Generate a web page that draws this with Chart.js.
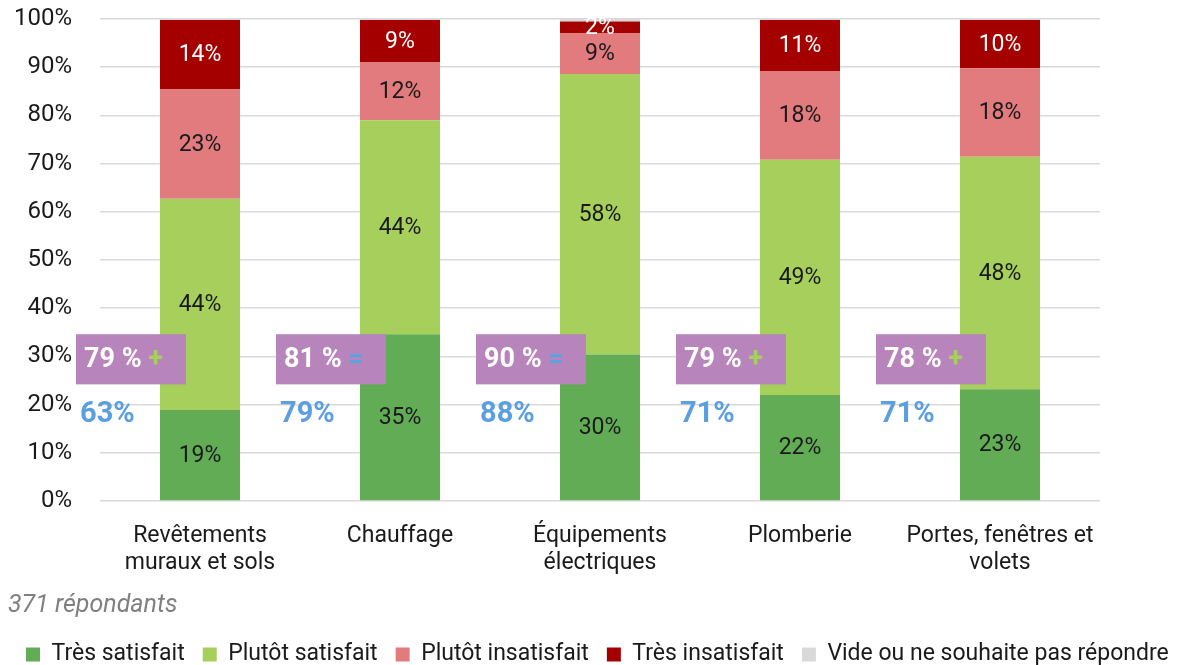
<!DOCTYPE html>
<html lang="fr">
<head>
<meta charset="utf-8">
<title>Satisfaction par équipement</title>
<script src="https://cdn.jsdelivr.net/npm/chart.js@4"></script>
<style>
  html, body { margin: 0; padding: 0; background: #fff; }
  #wrap { width: 1193px; height: 665px; position: relative; }
</style>
</head>
<body>
<div id="wrap"><canvas id="chart"></canvas></div>
<script>
const categories = [
    ['Revêtements', 'muraux et sols'],
    'Chauffage',
    ['Équipements', 'électriques'],
    'Plomberie',
    ['Portes, fenêtres et', 'volets']
];
const tresSatisfait = [18.9, 34.6, 30.4, 22.0, 23.2];
const plutotSatisfait = [43.8, 44.4, 58.2, 48.8, 48.2];
const plutotInsatisfait = [22.8, 12.1, 8.5, 18.4, 18.4];
const tresInsatisfait = [14.3, 8.7, 2.4, 10.6, 10.0];
const vide = [0.2, 0.2, 0.5, 0.2, 0.2];

// encadrés violets : score actuel + tendance, et score précédent en bleu
const scoreActuel = [79, 81, 90, 79, 78];
const tendance = ['+', '=', '=', '+', '+'];
const scorePrecedent = [63, 79, 88, 71, 71];

const FONT = 'Roboto, "DejaVu Sans", sans-serif';

// étiquettes de valeurs dans les segments
const segmentLabels = {
    id: 'segmentLabels',
    afterDatasetsDraw(chart) {
        const ctx = chart.ctx;
        ctx.save();
        ctx.font = '23px ' + FONT;
        ctx.textAlign = 'center';
        ctx.textBaseline = 'middle';
        chart.data.datasets.forEach((ds, i) => {
            if (ds.hideLabel) return;
            const meta = chart.getDatasetMeta(i);
            meta.data.forEach((bar, j) => {
                const v = ds.data[j];
                const p = bar.getProps(['x', 'y', 'base'], true);
                ctx.fillStyle = ds.labelColor;
                ctx.fillText(Math.round(v) + '%', p.x, (p.y + p.base) / 2 + 1);
            });
        });
        ctx.restore();
    }
};

// encadrés et scores précédents
const scoreBoxes = {
    id: 'scoreBoxes',
    afterDatasetsDraw(chart) {
        const ctx = chart.ctx;
        const xs = chart.scales.x;
        const ys = chart.scales.y;
        ctx.save();
        ctx.textBaseline = 'middle';
        ctx.textAlign = 'left';
        categories.forEach((c, i) => {
            const cx = xs.getPixelForValue(i);
            const top = ys.getPixelForValue(34.6);
            const bottom = ys.getPixelForValue(24.2);
            const left = cx - 124;
            ctx.fillStyle = '#B784BB';
            ctx.fillRect(left, top, 110, bottom - top);

            const midY = (top + bottom) / 2 + 1;
            ctx.font = 'bold 27px ' + FONT;
            ctx.fillStyle = '#ffffff';
            const txt = scoreActuel[i] + ' %';
            ctx.fillText(txt, left + 8, midY);
            const w = ctx.measureText(txt + ' ').width;
            ctx.fillStyle = tendance[i] === '+' ? '#A6CF5C' : '#5BA3E0';
            ctx.fillText(tendance[i], left + 8 + w, midY);

            ctx.font = 'bold 29px ' + FONT;
            ctx.fillStyle = '#5B9FE0';
            ctx.fillText(scorePrecedent[i] + '%', cx - 120, ys.getPixelForValue(18.2) + 1);
        });
        ctx.restore();
    }
};

new Chart(document.getElementById('chart'), {
    type: 'bar',
    data: {
        labels: categories,
        datasets: [
            { label: 'Très satisfait', data: tresSatisfait, backgroundColor: '#62AC55', labelColor: '#1a1a1a' },
            { label: 'Plutôt satisfait', data: plutotSatisfait, backgroundColor: '#A6CF5C', labelColor: '#1a1a1a' },
            { label: 'Plutôt insatisfait', data: plutotInsatisfait, backgroundColor: '#E27B7D', labelColor: '#1a1a1a' },
            { label: 'Très insatisfait', data: tresInsatisfait, backgroundColor: '#A50000', labelColor: '#ffffff' },
            { label: 'Vide ou ne souhaite pas répondre', data: vide, backgroundColor: '#D9D9D9', hideLabel: true }
        ]
    },
    options: {
        responsive: true,
        maintainAspectRatio: false,
        animation: false,
        datasets: {
            bar: { barPercentage: 0.4, categoryPercentage: 1, borderWidth: 0 }
        },
        layout: { padding: { left: 8, right: 0, top: 19, bottom: -11 } },
        scales: {
            x: {
                stacked: true,
                grid: { display: false },
                border: { display: false },
                ticks: { color: '#1a1a1a', font: { family: FONT, size: 23, lineHeight: 1.17 }, padding: 14, maxRotation: 0, autoSkip: false },
                afterFit(scale) { scale.height = 76; }
            },
            y: {
                stacked: true,
                min: 0,
                max: 100,
                border: { display: false },
                grid: { color: '#D9D9D9', lineWidth: 1.5, drawTicks: false },
                ticks: {
                    stepSize: 10,
                    padding: 28,
                    color: '#1a1a1a',
                    font: { family: FONT, size: 24 },
                    callback: v => v + '%'
                },
                afterFit(scale) {
                    scale.width = 92;
                    scale.paddingTop = 0;
                    scale.paddingBottom = 0;
                }
            },
            // marge droite
            marge: {
                type: 'linear',
                position: 'right',
                display: true,
                grid: { display: false, drawTicks: false },
                border: { display: false },
                ticks: { display: false },
                afterFit(scale) { scale.width = 93; }
            }
        },
        plugins: {
            tooltip: { enabled: false },
            subtitle: {
                display: true,
                text: '371 répondants',
                position: 'bottom',
                align: 'start',
                color: '#808080',
                font: { family: FONT, size: 25, style: 'italic', lineHeight: 1.2 },
                padding: { top: 14, bottom: 4 },
                weight: 500
            },
            legend: {
                position: 'bottom',
                align: 'start',
                weight: 3000,
                labels: {
                    boxWidth: 14,
                    boxHeight: 14,
                    padding: 18,
                    color: '#1a1a1a',
                    font: { family: FONT, size: 23 }
                }
            }
        }
    },
    plugins: [segmentLabels, scoreBoxes]
});
</script>
</body>
</html>
